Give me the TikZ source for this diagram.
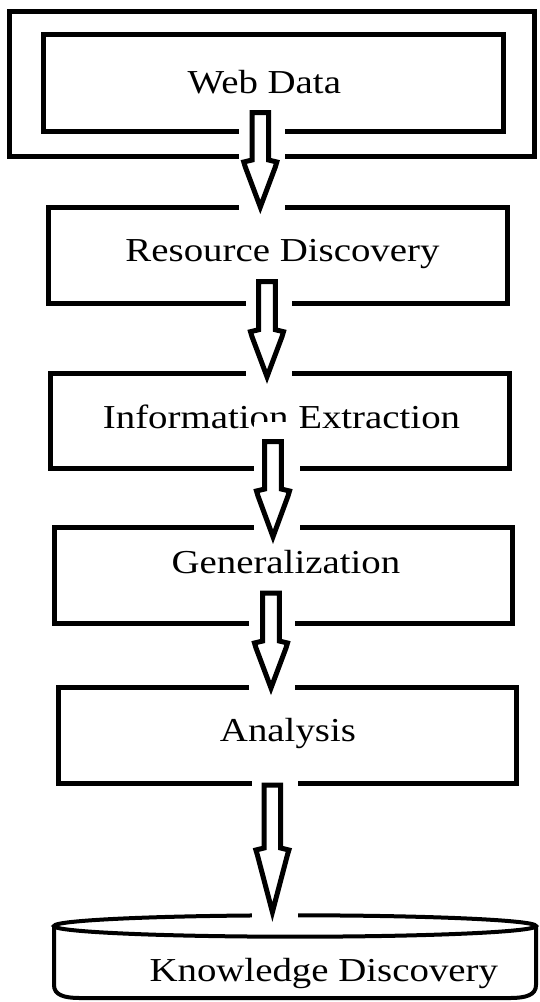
\documentclass[tikz,border=0pt]{standalone}
\usepackage{fontspec}
\setmainfont{Liberation Serif}
\usepackage{graphicx}

% horizontally widened label text
\newcommand\widetext[1]{\scalebox{1.16}[1]{#1}}

% block arrow pointing down:
% #1 shaft centre x, #2 centre x of the white clearance strip,
% #3 shaft top, #4 head base, #5 tip, #6 clearance above the shaft
\newcommand\blockarrow[6]{%
  \fill[white] (#2-23,#3-#6) rectangle (#2+23,#5+2);
  \draw[arrowline]
    (#1-8.3,#3) -- (#1-8.3,#4-2) -- (#1-16.5,#4) -- (#1-15,#4+5)
    -- (#1,#5-5)
    -- (#1+15,#4+5) -- (#1+16.5,#4) -- (#1+8.3,#4-2) -- (#1+8.3,#3) -- cycle;
}

\tikzset{
  box/.style={draw, line width=5pt, inner sep=0pt, outer sep=0pt},
  lbl/.style={font=\fontsize{33.5}{40}\selectfont, inner sep=0pt, anchor=base},
  arrowline/.style={draw, line width=5pt, line join=miter},
  cyl/.style={draw, line width=4pt},
}

\begin{document}
\begin{tikzpicture}[x=1pt,y=-1pt]
  \fill[white] (0,0) rectangle (540,1002);
  \useasboundingbox (0,0) rectangle (540,1002);

  % Web Data: double frame
  \node[box, minimum width=524.5pt, minimum height=145pt] (wdo) at (271.75,83.5) {};
  \node[box, minimum width=459.5pt, minimum height=96.5pt] (wdi) at (273.25,82.75) {};
  \node[lbl] (wdt) at (264.4,93.3) {\widetext{Web Data}};

  % process steps
  \node[box, minimum width=459pt, minimum height=96pt] (res) at (277.5,255) {};
  \node[lbl] (rest) at (282.5,261.7) {\widetext{Resource Discovery}};

  \node[box, minimum width=459pt, minimum height=95pt] (inf) at (279.5,420.5) {};
  \node[lbl] (inft) at (281.5,428.3) {\widetext{Information Extraction}};

  \node[box, minimum width=458pt, minimum height=96pt] (gen) at (283,575) {};
  \node[lbl] (gent) at (285.9,573.3) {\widetext{Generalization}};

  \node[box, minimum width=457.5pt, minimum height=96pt] (ana) at (287.25,735) {};
  \node[lbl] (anat) at (288,741.7) {\widetext{Analysis}};

  % Knowledge Discovery: flat cylinder
  \draw[cyl] (54,926) -- (54,985) .. controls (54,995) and (64,998) .. (80,998)
    -- (510,998) .. controls (526,998) and (536,995) .. (536,985) -- (536,926);
  \draw[cyl] (295,926) ellipse [x radius=241, y radius=10.7];
  \node[lbl] (kdt) at (323.8,981.7) {\widetext{Knowledge Discovery}};

  % flow arrows
  \blockarrow{260.3}{262}{112.5}{162}{212}{5}
  \blockarrow{267}{268.5}{281.7}{331.7}{381.7}{5}
  \blockarrow{273}{276.5}{441.7}{491}{541.7}{20}
  \blockarrow{271}{272.4}{593}{643}{693}{5}
  \blockarrow{272.4}{274.7}{785}{850}{917}{5}
\end{tikzpicture}
\end{document}
